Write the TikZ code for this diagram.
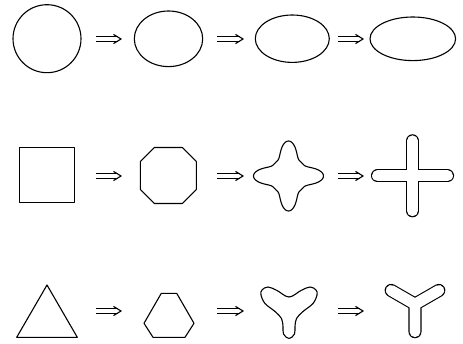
\documentclass[tikz,border=0pt]{standalone}

\begin{document}
\begin{tikzpicture}[
  x=1pt,
  y=1pt,
  outline/.style={black, line width=1.1pt, line join=round},
  shaft/.style={black, line width=1pt},
  head/.style={black, line width=1.1pt, line join=miter},
  armout/.style={black, line width=13.1pt, line cap=round},
  armin/.style={white, line width=10.9pt, line cap=round}
]
  \useasboundingbox (0,0) rectangle (463,343);

  % ---- the arrows between the stages -----------------------------------
  \foreach \row/\yy in {top/304, mid/167, low/32}
    \foreach \c/\xa/\xb in {1/96/121, 2/217/243, 3/338/363} {
      \coordinate (\row-\c-s) at (\xa,\yy);
      \coordinate (\row-\c-e) at (\xb,\yy);
      \draw[shaft] ([yshift=2.1]\row-\c-s) -- ([xshift=-3,yshift=2.1]\row-\c-e);
      \draw[shaft] ([yshift=-2.1]\row-\c-s) -- ([xshift=-3,yshift=-2.1]\row-\c-e);
      \draw[head] ([xshift=-7.5,yshift=4.6]\row-\c-e) -- (\row-\c-e)
        -- ([xshift=-7.5,yshift=-4.6]\row-\c-e);
    }

  % ---- circle to ellipse -----------------------------------------------
  \draw[outline] (47,304.3) circle[radius=34];
  \draw[outline] (168.5,304.2) ellipse[x radius=34.2, y radius=27.8];
  \draw[outline] (292.3,304.3) ellipse[x radius=37, y radius=23.7];
  \draw[outline] (412.8,304.2) ellipse[x radius=42.8, y radius=21.8];

  % ---- square to cross -------------------------------------------------
  \draw[outline] (19.3,140.2) rectangle (74.3,195.2);
  \draw[outline] (154.3,139.5) -- (182.3,139.5) -- (196.3,153.5)
    -- (196.3,181.5) -- (182.3,195.5) -- (154.3,195.5) -- (140.3,181.5)
    -- (140.3,153.5) -- cycle;
  \draw[outline] plot[domain=0:357.5, samples=144, smooth cycle, variable=\t]
    ({288.5+(18.7+16.3*((1+cos(4*\t))/2)^2)*cos(\t)},
     {167+(18.7+16.3*((1+cos(4*\t))/2)^2)*sin(\t)});
  \draw[armout] (412.5,132.2) -- (412.5,202.2) (377.5,167.2) -- (447.5,167.2);
  \draw[armin] (412.5,132.2) -- (412.5,202.2) (377.5,167.2) -- (447.5,167.2);

  % ---- triangle to Y ---------------------------------------------------
  \draw[outline] (16.7,5.7) -- (77.3,5.7) -- (47,58) -- cycle;
  \draw[outline] (161.3,49.7) -- (176.7,49.7) -- (194,19.7) -- (185,5.7)
    -- (153,5.7) -- (144,19.7) -- cycle;
  \draw[outline] plot[smooth cycle, tension=0.6] coordinates {
    (289,46) (301,52.5) (310,56) (316,53) (317,48) (313,39.5)
    (303,31.5) (296.5,24.5) (295,16.5) (294.5,9) (289,4.5) (283.5,9)
    (283,16.5) (281.5,24.5) (275,31.5) (265,39.5) (261,48) (262,53)
    (268,56) (277,52.5)};
  \draw[armout] (415,38.8) -- +(150:27.5) (415,38.8) -- +(30:27.5)
    (415,38.8) -- +(270:27.5);
  \draw[armin] (415,38.8) -- +(150:27.5) (415,38.8) -- +(30:27.5)
    (415,38.8) -- +(270:27.5);
\end{tikzpicture}
\end{document}
